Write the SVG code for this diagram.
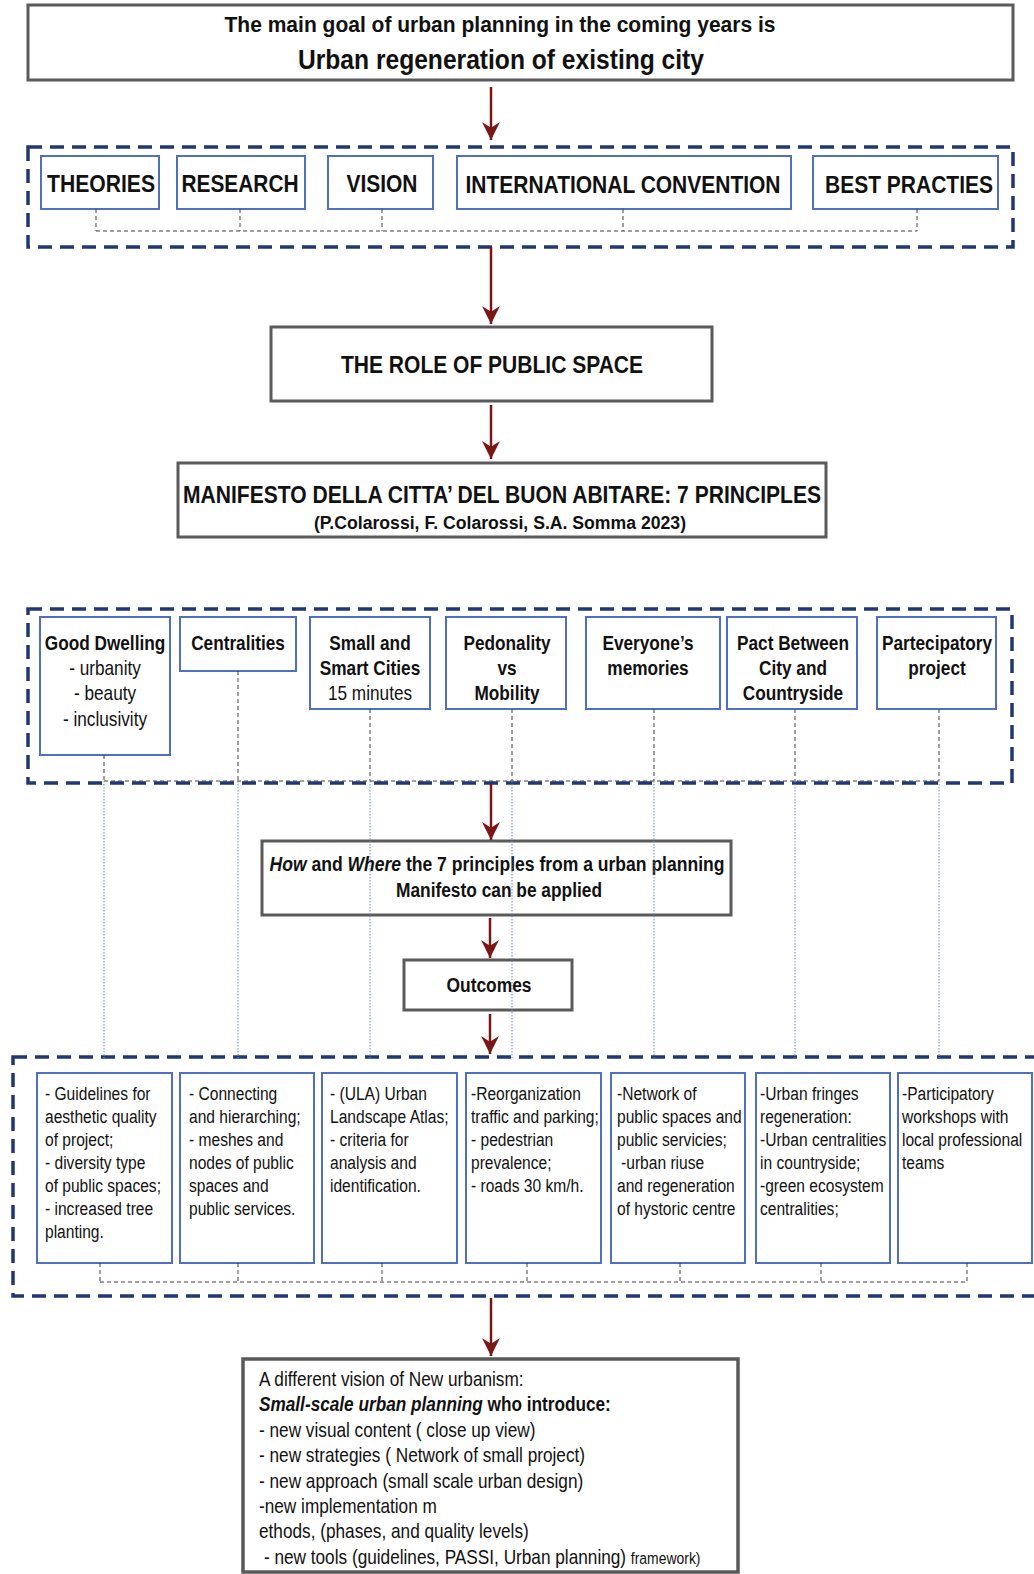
<svg xmlns="http://www.w3.org/2000/svg" width="1034" height="1574" viewBox="0 0 1034 1574">
<defs>
<style>
.t{font-family:'Liberation Sans',Arial,Helvetica,sans-serif;fill:#111}
.b{font-weight:bold}
.i{font-style:italic}
.c{text-anchor:middle}
.gbox{fill:#fff;stroke:#5a5a5a;stroke-width:3}
.bbox{fill:#fff;stroke:#4f6fc4;stroke-width:2}
.dbox{fill:none;stroke:#1f3773;stroke-width:3.5;stroke-dasharray:14 8}
.thin{fill:none;stroke:#404040;stroke-width:1;stroke-dasharray:4 3}
.dot{fill:none;stroke:#6d8ad0;stroke-width:1;stroke-dasharray:1.5 1.5}
.arr{stroke:#7a1616;stroke-width:2.5;fill:none;marker-end:url(#ah)}
.p{font-size:21px}
.o{font-size:19px}
.f{font-size:21px}
</style>
<marker id="ah" markerUnits="userSpaceOnUse" markerWidth="18" markerHeight="18" refX="16" refY="8" orient="auto" viewBox="0 0 16 16">
<path d="M0,0 L16,8 L0,16 L5,8 Z" fill="#7a1616"/>
</marker>
</defs>
<rect width="1034" height="1574" fill="#fff"/>

<g id="containers">
<rect class="dbox" x="28" y="147" width="985" height="100"/>
<rect class="dbox" x="28" y="609" width="984" height="174"/>
<rect class="dbox" x="13" y="1057" width="1030" height="239"/>
</g>

<g id="goal">
<rect class="gbox" x="28" y="5" width="985" height="75"/>
<text class="t b c" x="500" y="32" font-size="22" textLength="551" lengthAdjust="spacingAndGlyphs">The main goal of urban planning in the coming years is</text>
<text class="t b c" x="501" y="69" font-size="28" textLength="406" lengthAdjust="spacingAndGlyphs">Urban regeneration of existing city</text>
</g>

<g id="theories"><rect class="bbox" x="41" y="156" width="118" height="53"/><text class="t b c" x="101" y="192" font-size="24" textLength="108" lengthAdjust="spacingAndGlyphs">THEORIES</text></g>
<g id="research"><rect class="bbox" x="177" y="156" width="128" height="53"/><text class="t b c" x="240" y="192" font-size="24" textLength="117" lengthAdjust="spacingAndGlyphs">RESEARCH</text></g>
<g id="vision"><rect class="bbox" x="328" y="156" width="105" height="53"/><text class="t b c" x="382" y="192" font-size="24" textLength="71" lengthAdjust="spacingAndGlyphs">VISION</text></g>
<g id="convention"><rect class="bbox" x="457" y="156" width="334" height="53"/><text class="t b c" x="623" y="193" font-size="24" textLength="315" lengthAdjust="spacingAndGlyphs">INTERNATIONAL CONVENTION</text></g>
<g id="practies"><rect class="bbox" x="813" y="156" width="185" height="53"/><text class="t b c" x="909" y="193" font-size="24" textLength="168" lengthAdjust="spacingAndGlyphs">BEST PRACTIES</text></g>

<g id="role">
<rect class="gbox" x="271" y="327" width="441" height="74"/>
<text class="t b c" x="492" y="373" font-size="24" textLength="302" lengthAdjust="spacingAndGlyphs">THE ROLE OF PUBLIC SPACE</text>
</g>

<g id="manifesto">
<rect class="gbox" x="178" y="463" width="648" height="74"/>
<text class="t b c" x="502" y="503" font-size="24" textLength="638" lengthAdjust="spacingAndGlyphs">MANIFESTO DELLA CITTA’ DEL BUON ABITARE: 7 PRINCIPLES</text>
<text class="t b c" x="500" y="529" font-size="18" textLength="372" lengthAdjust="spacingAndGlyphs">(P.Colarossi, F. Colarossi, S.A. Somma 2023)</text>
</g>

<g id="good-dwelling">
<rect class="bbox" x="40" y="617" width="130" height="138"/>
<g transform="translate(105,0) scale(0.82,1)">
<text class="t b c p" x="0" y="650">Good Dwelling</text>
<text class="t c p" x="0" y="675">- urbanity</text>
<text class="t c p" x="0" y="700">- beauty</text>
<text class="t c p" x="0" y="726">- inclusivity</text>
</g>
</g>
<g id="centralities">
<rect class="bbox" x="180" y="617" width="116" height="54"/>
<g transform="translate(238,0) scale(0.82,1)"><text class="t b c p" x="0" y="650">Centralities</text></g>
</g>
<g id="small-smart">
<rect class="bbox" x="310" y="617" width="120" height="92"/>
<g transform="translate(370,0) scale(0.82,1)">
<text class="t b c p" x="0" y="650">Small and</text>
<text class="t b c p" x="0" y="675">Smart Cities</text>
<text class="t c p" x="0" y="700">15 minutes</text>
</g>
</g>
<g id="pedonality">
<rect class="bbox" x="446" y="617" width="120" height="92"/>
<g transform="translate(507,0) scale(0.82,1)">
<text class="t b c p" x="0" y="650">Pedonality</text>
<text class="t b c p" x="0" y="675">vs</text>
<text class="t b c p" x="0" y="700">Mobility</text>
</g>
</g>
<g id="memories">
<rect class="bbox" x="586" y="617" width="134" height="92"/>
<g transform="translate(648,0) scale(0.82,1)">
<text class="t b c p" x="0" y="650">Everyone’s</text>
<text class="t b c p" x="0" y="675">memories</text>
</g>
</g>
<g id="pact">
<rect class="bbox" x="727" y="617" width="130" height="92"/>
<g transform="translate(793,0) scale(0.82,1)">
<text class="t b c p" x="0" y="650">Pact Between</text>
<text class="t b c p" x="0" y="675">City and</text>
<text class="t b c p" x="0" y="700">Countryside</text>
</g>
</g>
<g id="participatory">
<rect class="bbox" x="877" y="617" width="119" height="92"/>
<g transform="translate(937,0) scale(0.82,1)">
<text class="t b c p" x="0" y="650">Partecipatory</text>
<text class="t b c p" x="0" y="675">project</text>
</g>
</g>

<g id="how-where">
<rect class="gbox" x="262" y="841" width="469" height="74"/>
<g transform="translate(497,0) scale(0.877,1)">
<text class="t b c" x="0" y="871" font-size="20"><tspan class="i">How</tspan> and <tspan class="i">Where</tspan> the 7 principles from a urban planning</text>
</g>
<text class="t b c" x="499" y="897" font-size="20" textLength="206" lengthAdjust="spacingAndGlyphs">Manifesto can be applied</text>
</g>

<g id="outcomes">
<rect class="gbox" x="404" y="960" width="168" height="50"/>
<text class="t b c" x="489" y="992" font-size="20" textLength="85" lengthAdjust="spacingAndGlyphs">Outcomes</text>
</g>

<g id="out1">
<rect class="bbox" x="37" y="1073" width="135" height="190"/>
<g transform="translate(45,0) scale(0.82,1)">
<text class="t o" x="0" y="1100">- Guidelines for</text>
<text class="t o" x="0" y="1123">aesthetic quality</text>
<text class="t o" x="0" y="1146">of project;</text>
<text class="t o" x="0" y="1169">- diversity type</text>
<text class="t o" x="0" y="1192">of public spaces;</text>
<text class="t o" x="0" y="1215">- increased tree</text>
<text class="t o" x="0" y="1238">planting.</text>
</g>
</g>
<g id="out2">
<rect class="bbox" x="180" y="1073" width="134" height="190"/>
<g transform="translate(189,0) scale(0.82,1)">
<text class="t o" x="0" y="1100">- Connecting</text>
<text class="t o" x="0" y="1123">and hierarching;</text>
<text class="t o" x="0" y="1146">- meshes and</text>
<text class="t o" x="0" y="1169">nodes of public</text>
<text class="t o" x="0" y="1192">spaces and</text>
<text class="t o" x="0" y="1215">public services.</text>
</g>
</g>
<g id="out3">
<rect class="bbox" x="322" y="1073" width="135" height="190"/>
<g transform="translate(330,0) scale(0.82,1)">
<text class="t o" x="0" y="1100">- (ULA) Urban</text>
<text class="t o" x="0" y="1123">Landscape Atlas;</text>
<text class="t o" x="0" y="1146">- criteria for</text>
<text class="t o" x="0" y="1169">analysis and</text>
<text class="t o" x="0" y="1192">identification.</text>
</g>
</g>
<g id="out4">
<rect class="bbox" x="466" y="1073" width="135" height="190"/>
<g transform="translate(471,0) scale(0.82,1)">
<text class="t o" x="0" y="1100">-Reorganization</text>
<text class="t o" x="0" y="1123">traffic and parking;</text>
<text class="t o" x="0" y="1146">- pedestrian</text>
<text class="t o" x="0" y="1169">prevalence;</text>
<text class="t o" x="0" y="1192">- roads 30 km/h.</text>
</g>
</g>
<g id="out5">
<rect class="bbox" x="611" y="1073" width="134" height="190"/>
<g transform="translate(617,0) scale(0.82,1)">
<text class="t o" x="0" y="1100">-Network of</text>
<text class="t o" x="0" y="1123">public spaces and</text>
<text class="t o" x="0" y="1146">public servicies;</text>
<text class="t o" x="5" y="1169">-urban riuse</text>
<text class="t o" x="0" y="1192">and regeneration</text>
<text class="t o" x="0" y="1215">of hystoric centre</text>
</g>
</g>
<g id="out6">
<rect class="bbox" x="756" y="1073" width="134" height="190"/>
<g transform="translate(760,0) scale(0.82,1)">
<text class="t o" x="0" y="1100">-Urban fringes</text>
<text class="t o" x="0" y="1123">regeneration:</text>
<text class="t o" x="0" y="1146">-Urban centralities</text>
<text class="t o" x="0" y="1169">in countryside;</text>
<text class="t o" x="0" y="1192">-green ecosystem</text>
<text class="t o" x="0" y="1215">centralities;</text>
</g>
</g>
<g id="out7">
<rect class="bbox" x="898" y="1073" width="134" height="190"/>
<g transform="translate(902,0) scale(0.82,1)">
<text class="t o" x="0" y="1100">-Participatory</text>
<text class="t o" x="0" y="1123">workshops with</text>
<text class="t o" x="0" y="1146">local professional</text>
<text class="t o" x="0" y="1169">teams</text>
</g>
</g>

<g id="vision-new-urbanism">
<rect x="243" y="1359" width="495" height="213" fill="#fff" stroke="#5a5a5a" stroke-width="3.5"/>
<g transform="translate(259,0) scale(0.82,1)">
<text class="t f" x="0" y="1386">A different vision of New urbanism:</text>
<text class="t f b" x="0" y="1411"><tspan class="i">Small-scale urban planning</tspan> who introduce:</text>
<text class="t f" x="0" y="1437">- new visual content ( close up view)</text>
<text class="t f" x="0" y="1462">- new strategies ( Network of small project)</text>
<text class="t f" x="0" y="1488">- new approach (small scale  urban design)</text>
<text class="t f" x="0" y="1513">-new implementation m</text>
<text class="t f" x="0" y="1538">ethods, (phases, and quality levels)</text>
<text class="t f" x="6" y="1564">- new tools (guidelines, PASSI, Urban planning) <tspan font-size="17">framework)</tspan></text>
</g>
</g>

<g id="connectors">
<path class="thin" d="M96,209 V231 M240,209 V231 M382,209 V231 M623,209 V231 M917,209 V231 M96,231 H917"/>
<path class="thin" d="M104,755 V781 M238,671 V781 M370,709 V781 M512,709 V781 M654,709 V781 M795,709 V781 M939,709 V781 M104,781 H939"/>
<path class="dot" d="M104,781 V1058 M238,781 V1058 M370,781 V1058 M512,781 V1058 M654,781 V1058 M795,781 V1058 M939,781 V1058"/>
<path class="thin" d="M100,1263 V1282 M238,1263 V1282 M382,1263 V1282 M527,1263 V1282 M680,1263 V1282 M821,1263 V1282 M967,1263 V1282 M100,1282 H967"/>
<line class="arr" x1="491" y1="87" x2="491" y2="140"/>
<line class="arr" x1="491" y1="247" x2="491" y2="324"/>
<line class="arr" x1="491" y1="405" x2="491" y2="459"/>
<line class="arr" x1="491" y1="784" x2="491" y2="840"/>
<line class="arr" x1="490" y1="918" x2="490" y2="958"/>
<line class="arr" x1="490" y1="1014" x2="490" y2="1054"/>
<line class="arr" x1="491" y1="1298" x2="491" y2="1356"/>
</g>
</svg>
